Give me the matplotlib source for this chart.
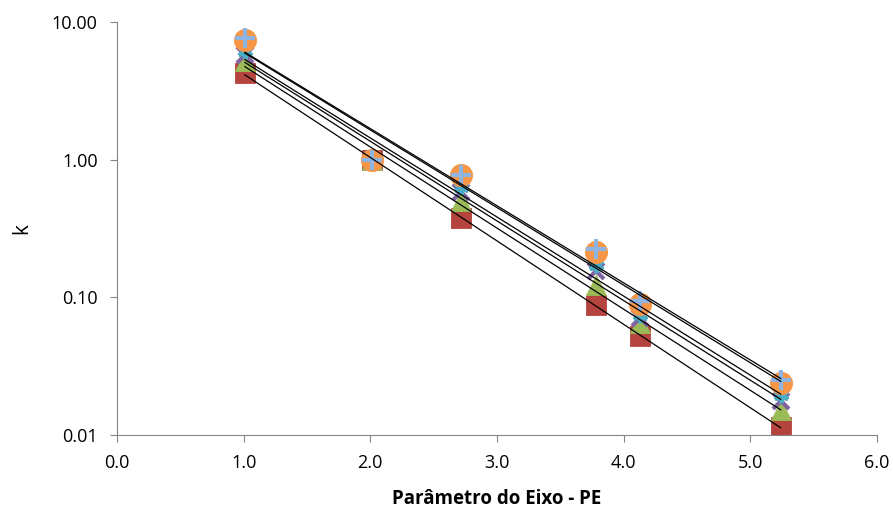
import matplotlib.pyplot as plt
import numpy as np

plt.rcParams["font.family"] = ["Open Sans", "DejaVu Sans"]

pe = [1.01, 2.01, 2.72, 3.78, 4.13, 5.24]

k_square = [4.25, 1.0, 0.375, 0.088, 0.052, 0.0115]
k_triangle = [5.2, 1.0, 0.50, 0.122, 0.065, 0.0152]
k_cross = [5.75, 1.0, 0.58, 0.156, 0.071, 0.0178]
k_star = [6.2, 1.0, 0.63, 0.172, 0.075, 0.0195]
k_circle = [7.35, 1.0, 0.77, 0.212, 0.090, 0.0240]
k_plus = [7.6, 1.0, 0.78, 0.225, 0.094, 0.0250]

series = [
    (k_square, "s", "#B5443F", 14),
    (k_triangle, "^", "#9BBB59", 15),
    (k_cross, "x", "#8064A2", 11),
    (k_star, (6, 2, 0), "#4BACC6", 11),
    (k_circle, "o", "#F79646", 16),
    (k_plus, "+", "#8EB4E3", 15),
]

fig = plt.figure(figsize=(8.93, 5.13), dpi=100)
ax = fig.add_axes([0.131, 0.152, 0.851, 0.805])

x = np.array(pe)
for vals, marker, color, size in series:
    ax.plot(x, vals, linestyle="none", marker=marker, color=color,
            markersize=size, markeredgewidth=3 if marker in ("x", "+", (6, 2, 0)) else 0.6,
            markeredgecolor=color, zorder=2)

# exponential trendlines, one per series
for vals, marker, color, size in series:
    b, a = np.polyfit(x, np.log(vals), 1)
    xs = np.linspace(x.min(), x.max(), 50)
    ax.plot(xs, np.exp(a + b * xs), color="black", linewidth=0.9, zorder=3)

ax.set_yscale("log")
ax.set_xlim(0, 6)
ax.set_ylim(0.01, 10)
ax.set_xticks(np.arange(0, 6.01, 1.0))
ax.set_xticklabels(["%.1f" % v for v in np.arange(0, 6.01, 1.0)])
ax.set_yticks([0.01, 0.1, 1, 10])
ax.set_yticklabels(["0.01", "0.10", "1.00", "10.00"])
ax.minorticks_off()
ax.yaxis.set_minor_locator(plt.NullLocator())

for s in ["top", "right"]:
    ax.spines[s].set_visible(False)
for s in ["left", "bottom"]:
    ax.spines[s].set_color("#868686")
ax.tick_params(axis="both", colors="#868686", labelcolor="black",
               labelsize=13, length=5, direction="out")
ax.tick_params(axis="y", pad=9)
ax.tick_params(axis="x", pad=9)

ax.set_xlabel("Parâmetro do Eixo - PE", fontsize=13.5, fontweight="bold", labelpad=12)
ax.set_ylabel("k", fontsize=15, labelpad=14)

fig.savefig("out.png", dpi=100)
